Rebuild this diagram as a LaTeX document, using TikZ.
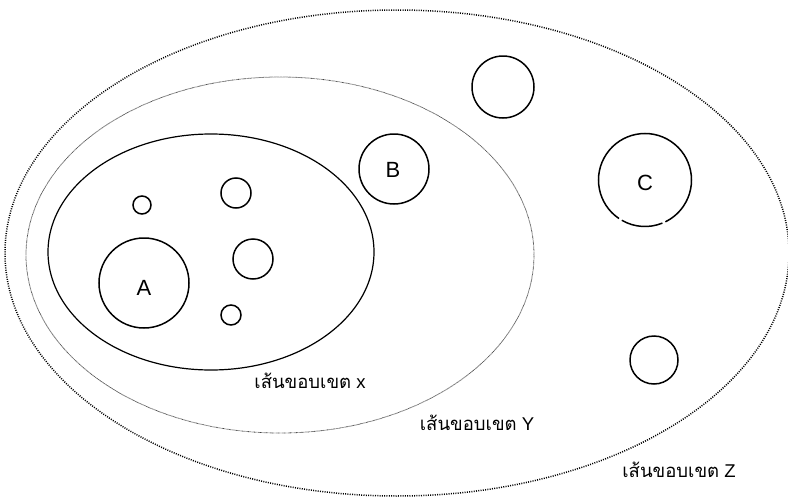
\documentclass[tikz,border=0pt]{standalone}
\usepackage{fontspec}
\setmainfont{Liberation Sans}
\newfontfamily\thaifont[Script=Thai]{Loma}
\begin{document}
\begin{tikzpicture}[x=1pt,y=-1pt,
  ring/.style={draw=black,line width=1.5pt},
  zline/.style={draw=black,line width=1.5pt,dash pattern=on 1pt off 1.3pt},
  yline/.style={draw=black!75,line width=0.8pt,dash pattern=on 0.6pt off 0.6pt},
  xline/.style={draw=black,line width=1.2pt},
  letter/.style={font=\fontsize{22}{22}\selectfont},
  lbl/.style={font=\fontsize{18.5}{18.5}\selectfont,anchor=center}]
\useasboundingbox (0,0) rectangle (788,498);
% boundaries
\draw[zline] (397,253) ellipse [x radius=392, y radius=243];
\draw[yline] (280,255) ellipse [x radius=254, y radius=178];
\draw[xline] (211,252) ellipse [x radius=163, y radius=118];
% circles
\draw[ring] (142,205) circle [radius=9];
\draw[ring] (236,193) circle [radius=15];
\draw[ring] (144,283) circle [radius=45];
\draw[ring] (253,259) circle [radius=20];
\draw[ring] (231,315) circle [radius=10];
\draw[ring] (394,169) circle [radius=35];
\draw[ring] (503,87) circle [radius=31];
\draw[ring] (654,360) circle [radius=24];
% C circle with two small gaps at bottom
\draw[ring] (645,180) ++(124:46.5) arc [start angle=124, end angle=424, radius=46.5];
\draw[ring] (645,180) ++(68:46.5) arc [start angle=68, end angle=120, radius=46.5];
% letters
\node[letter] (A) at (144,288) {A};
\node[letter] (B) at (393,170) {B};
\node[letter] (C) at (645,183) {C};
% labels
\node[lbl] (lx) at (310,381) {{\thaifont เส้นขอบเขต} x};
\node[lbl] (ly) at (477,423) {{\thaifont เส้นขอบเขต} Y};
\node[lbl] (lz) at (679,470) {{\thaifont เส้นขอบเขต} Z};
\end{tikzpicture}
\end{document}
